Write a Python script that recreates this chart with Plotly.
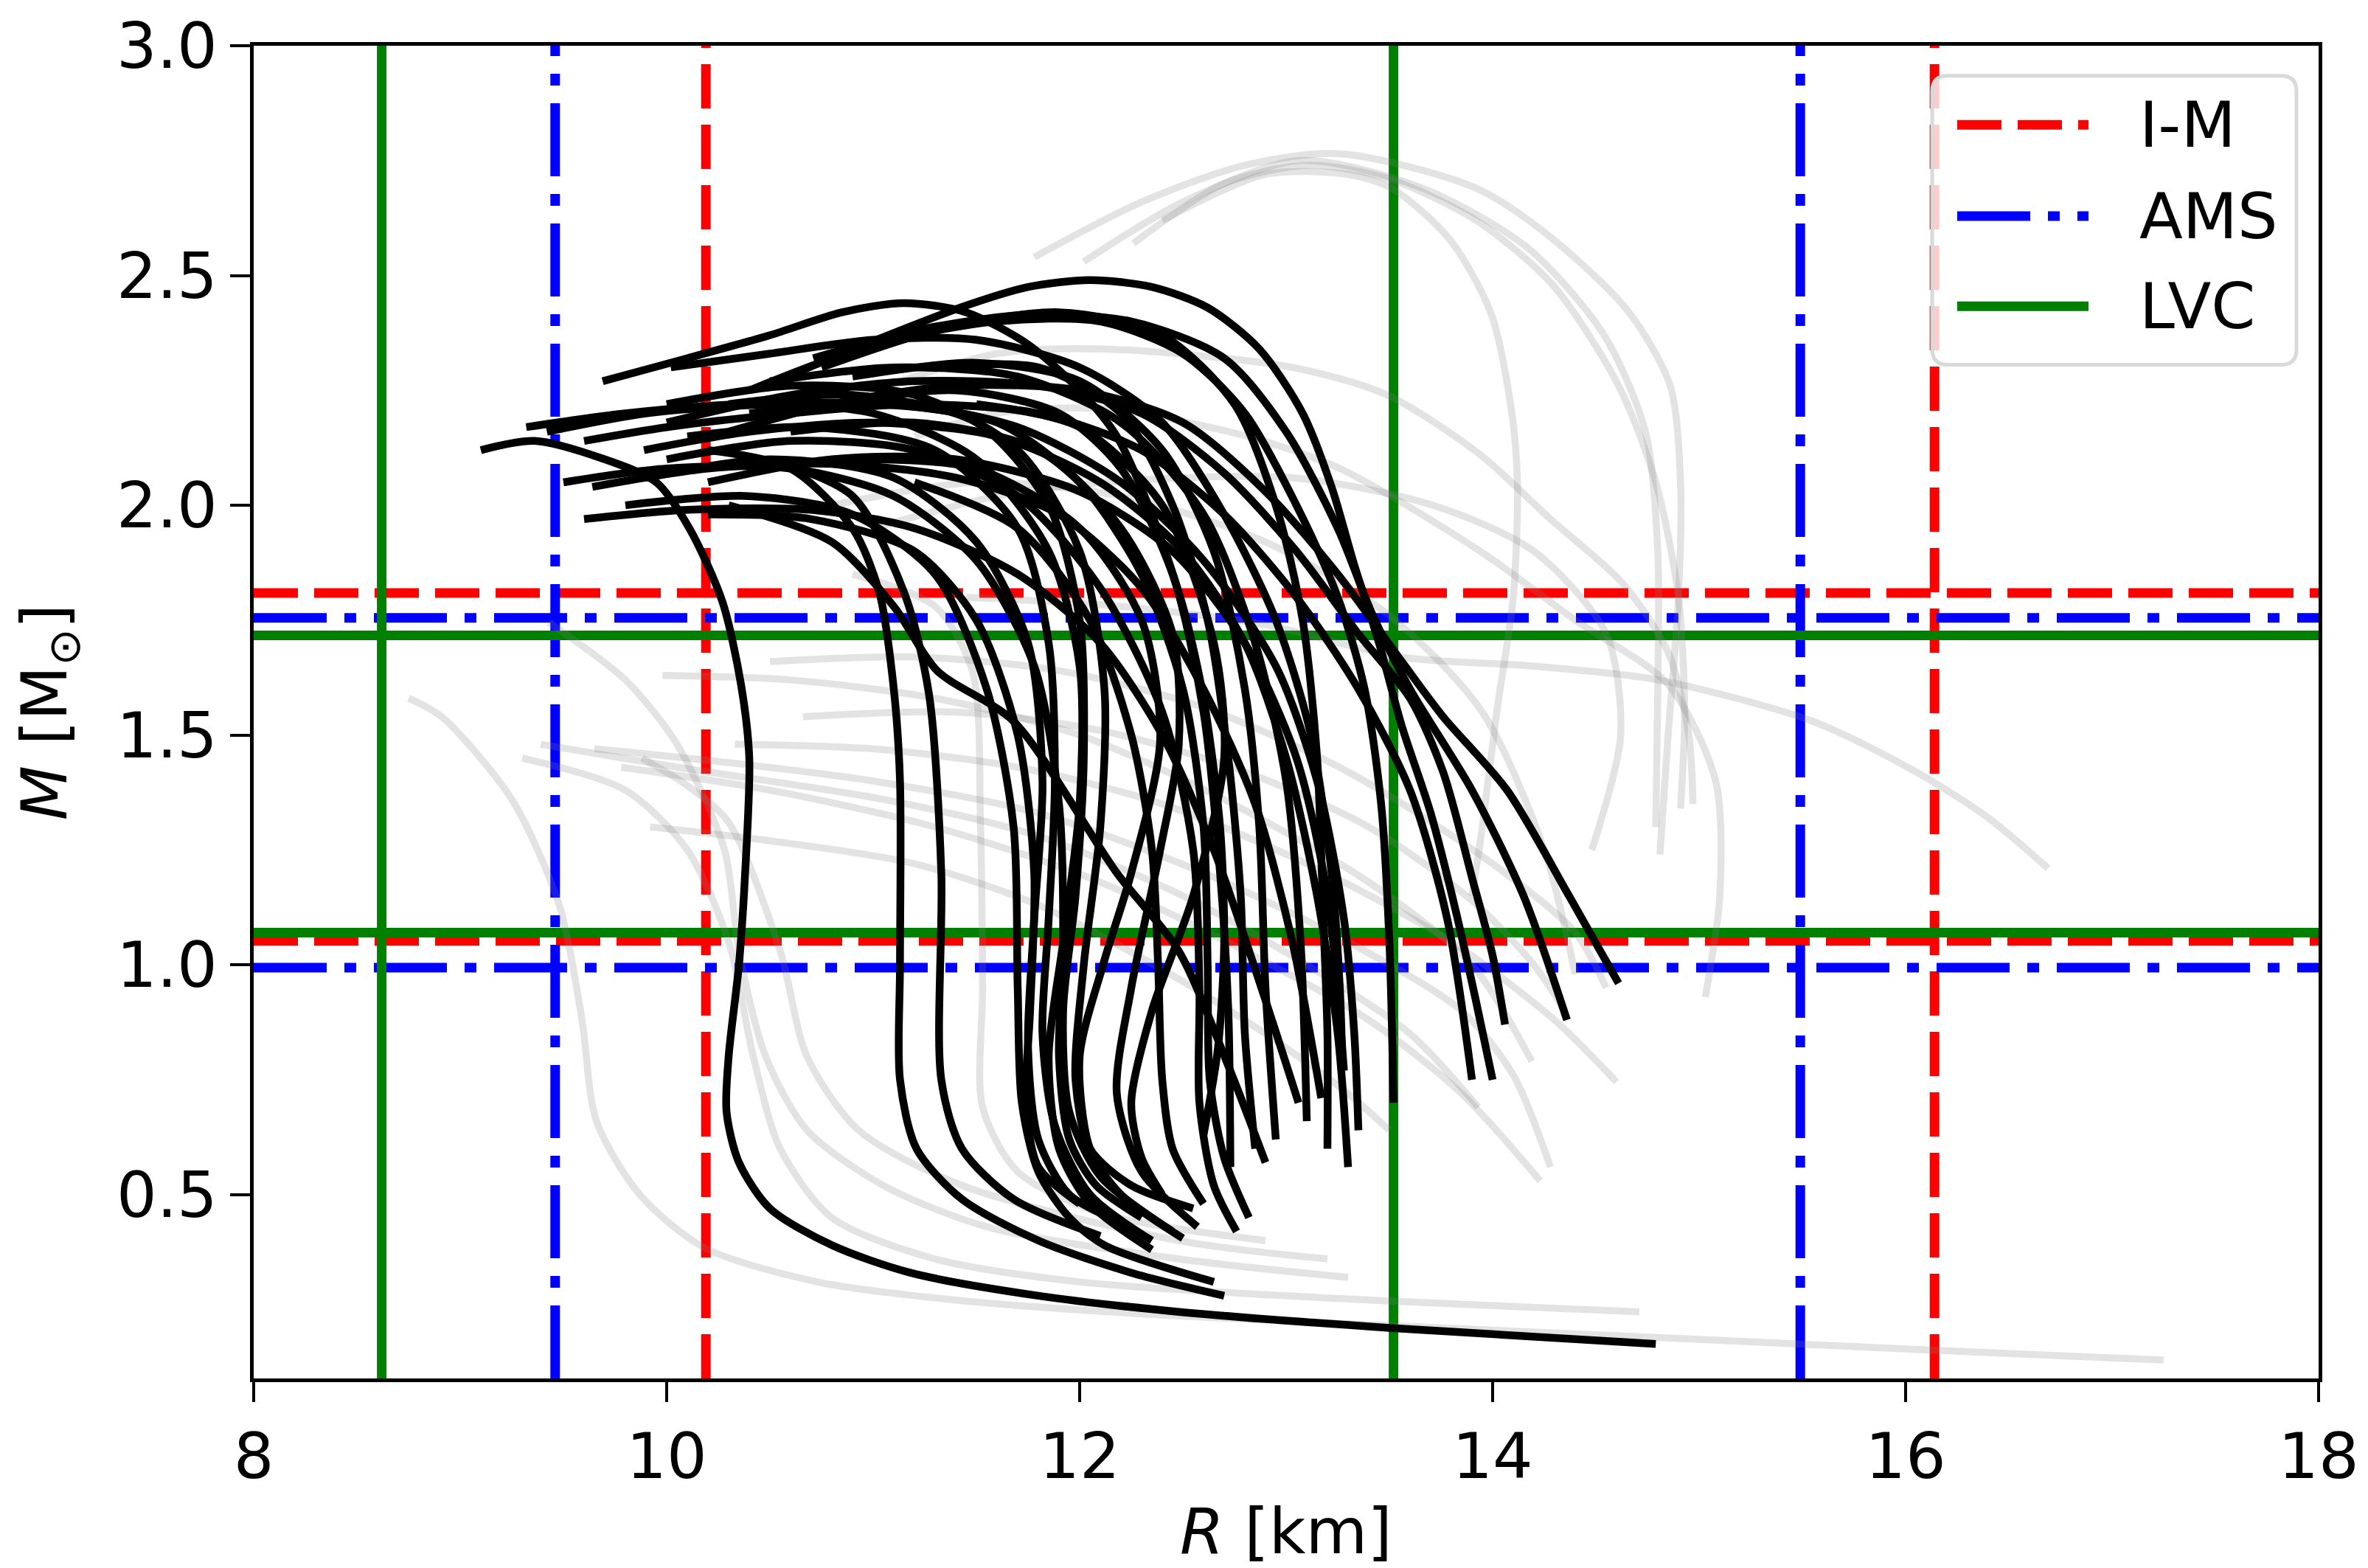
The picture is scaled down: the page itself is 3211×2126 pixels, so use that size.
import plotly.graph_objects as go

# ---------------- constraint values ----------------
IM_R = [10.19, 16.14]
IM_M = [1.052, 1.809]
AMS_R = [9.46, 15.49]
AMS_M = [0.994, 1.755]
LVC_R = [8.62, 13.52]
LVC_M = [1.070, 1.717]

X_RANGE = [8, 18]
Y_RANGE = [0.1, 3.0]
X_TICKS = [8, 10, 12, 14, 16, 18]
Y_TICKS = [0.5, 1.0, 1.5, 2.0, 2.5, 3.0]

# ---------------- grey (excluded) M-R curves : (R [km], M [Msun]) ----------------
g01 = [(8.75,1.58),(8.91,1.54),(9.25,1.36),(9.48,1.13),(9.59,0.88),(9.66,0.66),(9.87,0.50),(10.18,0.385),(10.73,0.31),(11.41,0.27),(12.32,0.24),(13.5,0.215),(15.0,0.185),(16.2,0.16),(17.25,0.14)]
g02 = [(9.30,1.45),(9.80,1.38),(10.10,1.25),(10.30,1.05),(10.42,0.80),(10.55,0.60),(10.80,0.45),(11.30,0.36),(12.0,0.31),(13.0,0.28),(14.71,0.245)]
g03 = [(9.43,1.745),(9.8,1.62),(10.05,1.48),(10.28,1.25),(10.35,1.03),(10.48,0.80),(10.68,0.64),(11.05,0.52),(11.55,0.43),(12.48,0.36),(13.3,0.32)]
g04 = [(9.88,1.45),(10.1,1.39),(10.3,1.31),(10.55,1.03),(10.68,0.80),(10.93,0.64),(11.43,0.52),(12.48,0.40),(13.2,0.36)]
g05 = [(10.9,1.85),(11.3,1.78),(11.48,1.64),(11.52,1.30),(11.53,0.95),(11.53,0.69),(11.7,0.55),(12.1,0.46),(12.9,0.40)]
g06 = [(9.39,1.48),(10.05,1.43),(11.05,1.36),(11.8,1.28),(12.5,1.15),(13.1,1.0),(13.6,0.85),(13.93,0.69)]
g07 = [(9.65,1.47),(10.3,1.44),(11.0,1.40),(11.8,1.33),(12.6,1.20),(13.3,1.05),(13.85,0.90),(14.1,0.76),(14.28,0.56)]
g08 = [(9.78,1.43),(10.5,1.38),(11.3,1.30),(12.1,1.18),(12.8,1.03),(13.4,0.88),(13.85,0.72),(14.23,0.53)]
g09 = [(9.98,1.63),(10.6,1.62),(11.3,1.58),(12.0,1.50),(12.7,1.36),(13.4,1.18),(13.9,1.0),(14.19,0.79)]
g10 = [(9.92,1.30),(10.5,1.27),(11.2,1.22),(11.8,1.13),(12.4,0.99),(12.9,0.85),(13.3,0.72),(13.5,0.64)]
g11 = [(10.33,1.48),(11.0,1.47),(11.7,1.43),(12.4,1.35),(13.1,1.22),(13.8,1.05),(14.3,0.88),(14.6,0.745)]
g12 = [(10.5,1.66),(11.2,1.67),(11.9,1.64),(12.6,1.56),(13.3,1.42),(14.0,1.22),(14.4,1.07),(14.55,0.95)]
g13 = [(10.66,1.54),(11.4,1.55),(12.1,1.51),(12.8,1.42),(13.4,1.30),(13.9,1.14),(14.2,1.0),(14.35,0.90)]
g14 = [(11.45,1.80),(12.2,1.78),(12.9,1.74),(13.55,1.67),(14.2,1.65),(14.8,1.62),(15.55,1.53),(16.05,1.42),(16.4,1.32),(16.69,1.21)]
g15 = [(11.78,2.54),(12.3,2.66),(12.8,2.74),(13.26,2.765),(13.92,2.69),(14.29,2.58),(14.66,2.42),(14.86,2.26),(14.91,2.05),(14.9,1.8),(14.85,1.5),(14.81,1.24)]
g16 = [(12.02,2.53),(12.5,2.66),(13.06,2.75),(13.66,2.69),(14.17,2.56),(14.54,2.37),(14.74,2.16),(14.8,1.9),(14.8,1.6),(14.79,1.30)]
g17 = [(12.26,2.57),(12.7,2.70),(13.11,2.74),(13.5,2.71),(13.92,2.62),(14.29,2.48),(14.61,2.26),(14.79,2.05),(14.9,1.8),(14.93,1.55),(14.91,1.34)]
g18 = [(12.4,2.62),(12.9,2.72),(13.3,2.72),(13.51,2.69),(13.79,2.58),(13.99,2.42),(14.09,2.21),(14.12,2.05),(14.1,1.8),(14.02,1.55),(13.95,1.30),(13.9,1.15)]
g19 = [(11.0,2.25),(11.6,2.33),(12.12,2.34),(13.03,2.30),(13.49,2.24),(13.94,2.11),(14.28,1.97),(14.63,1.83),(14.85,1.68),(14.95,1.50),(14.97,1.35)]
g20 = [(11.2,2.15),(11.6,2.20),(12.12,2.21),(12.81,2.15),(13.26,2.08),(13.94,1.90),(14.4,1.75),(14.85,1.61),(15.08,1.40),(15.1,1.15),(15.03,0.93)]
g21 = [(11.0,1.95),(11.6,2.02),(12.12,2.05),(13.03,2.06),(13.71,2.0),(14.2,1.90),(14.55,1.72),(14.62,1.50),(14.48,1.25)]
g22 = [(10.8,2.0),(11.5,2.05),(12.2,2.02),(12.9,1.92),(13.5,1.76),(13.95,1.55),(14.25,1.25),(14.4,0.98)]

# ---------------- black (allowed) M-R curves : (R [km], M [Msun]) ----------------
b01 = [(9.10,2.12),(9.36,2.14),(9.70,2.10),(9.95,2.05),(10.11,1.95),(10.27,1.79),(10.36,1.61),(10.40,1.45),(10.38,1.20),(10.35,1.00),(10.30,0.80),(10.29,0.68),(10.35,0.57),(10.50,0.47),(10.80,0.39),(11.18,0.33),(11.80,0.28),(12.48,0.245),(13.50,0.21),(14.79,0.175)]
b02 = [(10.58,2.28),(10.96,2.35),(11.42,2.43),(11.75,2.475),(12.05,2.49),(12.35,2.475),(12.62,2.43),(12.87,2.34),(13.08,2.20),(13.22,2.04),(13.33,1.87),(13.45,1.70),(13.56,1.52),(13.70,1.33),(13.82,1.12),(13.92,0.92),(14.0,0.75)]
b03 = [(9.69,2.27),(10.1,2.32),(10.5,2.37),(10.85,2.42),(11.15,2.44),(11.45,2.42),(11.75,2.35),(12.0,2.25),(12.18,2.15),(12.35,1.98),(12.5,1.78),(12.6,1.58),(12.68,1.30),(12.70,1.05),(12.67,0.82),(12.6,0.63)]
b04 = [(10.71,2.32),(11.2,2.38),(11.75,2.415),(12.25,2.40),(12.7,2.32),(13.0,2.16),(13.25,1.95),(13.42,1.76),(13.6,1.60),(13.9,1.38),(14.15,1.15),(14.36,0.88)]
b05 = [(10.3,2.16),(10.8,2.22),(11.4,2.26),(12.0,2.25),(12.5,2.18),(12.9,2.03),(13.25,1.85),(13.56,1.66),(13.76,1.54),(14.07,1.38),(14.37,1.15),(14.61,0.96)]
b06 = [(10.0,2.18),(10.6,2.24),(11.2,2.27),(11.8,2.26),(12.3,2.20),(12.7,2.07),(13.05,1.90),(13.35,1.72),(13.6,1.58),(13.76,1.42),(13.9,1.19),(14.0,1.02),(14.06,0.87)]
b07 = [(10.4,2.25),(11.0,2.35),(11.6,2.40),(12.1,2.40),(12.5,2.33),(12.8,2.20),(13.05,2.0),(13.25,1.80),(13.38,1.60),(13.46,1.35),(13.5,1.05),(13.52,0.70)]
b08 = [(9.60,2.14),(10.0,2.17),(10.6,2.20),(11.2,2.22),(11.8,2.20),(12.3,2.12),(12.7,1.98),(13.05,1.80),(13.35,1.60),(13.6,1.38),(13.78,1.10),(13.9,0.75)]
b09 = [(9.42,2.16),(9.9,2.20),(10.5,2.22),(11.1,2.22),(11.7,2.17),(12.2,2.05),(12.6,1.88),(12.95,1.65),(13.15,1.40),(13.28,1.10),(13.33,0.85),(13.35,0.64)]
b10 = [(9.89,2.12),(10.4,2.16),(11.0,2.18),(11.6,2.15),(12.1,2.05),(12.5,1.90),(12.8,1.70),(13.0,1.45),(13.15,1.15),(13.25,0.85),(13.30,0.56)]
b11 = [(10.2,2.05),(10.8,2.10),(11.4,2.10),(12.0,2.03),(12.45,1.90),(12.8,1.70),(13.05,1.45),(13.2,1.15),(13.28,0.77)]
b12 = [(9.64,2.04),(10.2,2.08),(10.8,2.09),(11.4,2.06),(11.9,1.98),(12.3,1.82),(12.6,1.60),(12.85,1.35),(13.03,1.05),(13.17,0.71)]
b13 = [(9.60,1.97),(10.1,1.99),(10.7,1.99),(11.2,1.95),(11.7,1.85),(12.1,1.70),(12.4,1.50),(12.65,1.25),(12.88,0.95),(13.06,0.70)]
b14 = [(10.3,2.0),(10.8,1.92),(11.1,1.78),(11.31,1.64),(11.68,1.53),(12.18,1.20),(12.48,1.03),(12.72,0.78),(12.9,0.57)]
b15 = [(10.8,2.22),(11.4,2.25),(11.9,2.20),(12.2,2.08),(12.45,1.85),(12.6,1.55),(12.68,1.20),(12.72,0.90),(12.73,0.56)]
b16 = [(10.4,2.20),(11.0,2.22),(11.6,2.18),(12.0,2.05),(12.3,1.85),(12.5,1.60),(12.6,1.30),(12.62,1.00),(12.63,0.75),(12.70,0.58),(12.82,0.45)]
b17 = [(10.0,2.10),(10.6,2.14),(11.2,2.12),(11.7,2.02),(12.1,1.82),(12.4,1.55),(12.55,1.25),(12.58,0.95),(12.58,0.70),(12.65,0.52),(12.76,0.42)]
b18 = [(10.6,2.16),(11.2,2.18),(11.8,2.12),(12.2,1.95),(12.45,1.72),(12.48,1.48),(12.39,1.25),(12.25,0.95),(12.18,0.72),(12.30,0.55),(12.57,0.43)]
b19 = [(10.9,2.10),(11.5,2.08),(12.0,1.95),(12.3,1.75),(12.39,1.49),(12.25,1.20),(12.12,1.01),(12.0,0.80),(12.05,0.60),(12.2,0.50),(12.5,0.405)]
b20 = [(9.32,2.17),(9.8,2.20),(10.4,2.22),(11.0,2.20),(11.5,2.10),(11.85,1.90),(12.0,1.65),(12.0,1.35),(11.92,1.05),(11.85,0.80),(11.9,0.60),(12.05,0.48),(12.35,0.38)]
b21 = [(10.2,2.12),(10.6,2.08),(10.9,1.95),(11.03,1.81),(11.10,1.60),(11.13,1.40),(11.13,1.00),(11.13,0.75),(11.21,0.60),(11.43,0.49),(11.80,0.40),(12.25,0.33),(12.70,0.28)]
b22 = [(10.5,2.10),(10.9,2.02),(11.15,1.81),(11.27,1.59),(11.33,1.20),(11.33,0.75),(11.43,0.60),(11.68,0.49),(12.10,0.41)]
b23 = [(9.8,2.00),(10.4,2.02),(10.9,1.98),(11.3,1.85),(11.55,1.60),(11.68,1.30),(11.70,0.95),(11.72,0.70),(11.80,0.55),(11.95,0.45),(12.12,0.39),(12.65,0.31)]
b24 = [(10.1,2.15),(10.7,2.17),(11.3,2.12),(11.7,1.95),(11.85,1.70),(11.88,1.40),(11.85,1.10),(11.82,0.85),(11.88,0.65),(12.05,0.50),(12.35,0.40)]
b25 = [(10.3,2.22),(10.9,2.24),(11.5,2.18),(11.85,2.0),(12.0,1.75),(12.02,1.45),(11.98,1.15),(11.92,0.90),(11.95,0.68),(12.1,0.54),(12.45,0.42)]
b26 = [(10.0,2.22),(10.6,2.26),(11.2,2.24),(11.7,2.12),(12.0,1.90),(12.12,1.60),(12.10,1.30),(12.02,1.00),(11.98,0.75),(12.05,0.60),(12.25,0.52),(12.55,0.47)]
b27 = [(9.9,2.06),(10.5,2.10),(11.1,2.06),(11.5,1.92),(11.75,1.70),(11.82,1.40),(11.78,1.10),(11.75,0.82),(11.80,0.62),(11.95,0.50),(12.20,0.44)]
b28 = [(11.3,2.30),(11.8,2.30),(12.2,2.20),(12.45,2.0),(12.62,1.75),(12.72,1.45),(12.78,1.15),(12.80,0.85),(12.85,0.60)]
b29 = [(10.9,2.28),(11.5,2.31),(12.0,2.27),(12.4,2.12),(12.65,1.90),(12.8,1.60),(12.87,1.30),(12.9,0.95),(12.95,0.62)]
b30 = [(10.5,2.27),(11.1,2.30),(11.7,2.28),(12.2,2.18),(12.6,1.98),(12.85,1.70),(13.0,1.40),(13.07,1.05),(13.10,0.66)]
b31 = [(11.5,2.22),(12.0,2.17),(12.4,2.0),(12.65,1.70),(12.7,1.45),(12.55,1.15),(12.35,0.90),(12.25,0.70),(12.3,0.58),(12.4,0.50)]
b32 = [(11.2,2.05),(11.7,1.95),(12.05,1.75),(12.25,1.50),(12.35,1.25),(12.38,1.00),(12.40,0.75),(12.45,0.60),(12.6,0.48)]
b33 = [(10.75,2.30),(11.3,2.38),(11.9,2.42),(12.4,2.37),(12.75,2.22),(12.95,2.0),(13.08,1.75),(13.15,1.45),(13.18,1.10),(13.2,0.85),(13.2,0.60)]
b34 = [(9.5,2.05),(10.0,2.08),(10.6,2.08),(11.1,2.02),(11.5,1.88),(11.78,1.65),(11.9,1.35),(11.92,1.05),(11.90,0.80),(11.95,0.62),(12.08,0.52),(12.30,0.45)]
b35 = [(10.2,1.98),(10.7,1.97),(11.2,1.90),(11.5,1.75),(11.7,1.50),(11.78,1.20),(11.76,0.90),(11.74,0.70),(11.80,0.56),(12.0,0.48)]
b36 = [(10.02,2.30),(10.5,2.33),(11.0,2.36),(11.5,2.36),(12.0,2.30),(12.4,2.18),(12.7,1.98),(12.95,1.75),(13.12,1.50),(13.22,1.20),(13.26,0.95),(13.27,0.82)]

grey_curves = [g01, g02, g03, g04, g05, g06, g07, g08, g09, g10, g11,
               g12, g13, g14, g15, g16, g17, g18, g19, g20, g21, g22]
black_curves = [b01, b02, b03, b04, b05, b06, b07, b08, b09, b10, b11, b12,
                b13, b14, b15, b16, b17, b18, b19, b20, b21, b22, b23, b24,
                b25, b26, b27, b28, b29, b30, b31, b32, b33, b34, b35, b36]

# ---------------- styles ----------------
RED = "#ff0000"
BLUE = "#0000ff"
GREEN = "#008000"
DASH_IM = "60px,22px"
DASH_AMS = "99px,24px,16px,24px"
LW = 13
FONT = "DejaVu Sans"
FS = 86

fig = go.Figure()

def add_constraint(r_vals, m_vals, color, dash, name):
    for r in r_vals:
        fig.add_trace(go.Scatter(x=[r, r], y=Y_RANGE, mode="lines", name=name,
                                 line=dict(color=color, width=LW, dash=dash),
                                 showlegend=False, hoverinfo="skip"))
    for m in m_vals:
        fig.add_trace(go.Scatter(x=X_RANGE, y=[m, m], mode="lines", name=name,
                                 line=dict(color=color, width=LW, dash=dash),
                                 showlegend=False, hoverinfo="skip"))

add_constraint(IM_R, IM_M, RED, DASH_IM, "I-M")
add_constraint(AMS_R, AMS_M, BLUE, DASH_AMS, "AMS")
add_constraint(LVC_R, LVC_M, GREEN, "solid", "LVC")

for c in grey_curves:
    fig.add_trace(go.Scatter(x=[p[0] for p in c], y=[p[1] for p in c], mode="lines",
                             line=dict(color="rgba(128,128,128,0.22)", width=9.5,
                                       shape="spline", smoothing=0.8),
                             showlegend=False, hoverinfo="skip"))

for c in black_curves:
    fig.add_trace(go.Scatter(x=[p[0] for p in c], y=[p[1] for p in c], mode="lines",
                             line=dict(color="black", width=10.5,
                                       shape="spline", smoothing=0.8),
                             showlegend=False, hoverinfo="skip"))

# ---------------- manual legend (paper coords) ----------------
x0, x1, y0, y1 = 0.8129, 0.9893, 0.7606, 0.9775
rx, ry = 0.0075, 0.0115
path = (f"M {x0+rx},{y1} L {x1-rx},{y1} Q {x1},{y1} {x1},{y1-ry} "
        f"L {x1},{y0+ry} Q {x1},{y0} {x1-rx},{y0} L {x0+rx},{y0} "
        f"Q {x0},{y0} {x0},{y0+ry} L {x0},{y1-ry} Q {x0},{y1} {x0+rx},{y1} Z")
shapes = [dict(type="path", path=path, xref="paper", yref="paper",
               fillcolor="rgba(255,255,255,0.8)", line=dict(color="#d9d9d9", width=5),
               layer="above")]
legend_items = [("I-M", RED, DASH_IM, 0.9407), ("AMS", BLUE, DASH_AMS, 0.8721),
                ("LVC", GREEN, "solid", 0.8045)]
annotations = []
for label, col, dsh, yy in legend_items:
    shapes.append(dict(type="line", xref="paper", yref="paper", x0=0.8250, x1=0.8886,
                       y0=yy, y1=yy, line=dict(color=col, width=LW, dash=dsh), layer="above"))
    annotations.append(dict(text=label, xref="paper", yref="paper", x=0.9125, y=yy,
                            xanchor="left", yanchor="middle", showarrow=False,
                            font=dict(family=FONT, size=FS, color="black")))

fig.update_layout(
    width=3211, height=2126,
    margin=dict(l=344, r=67, t=54, b=252),
    paper_bgcolor="white", plot_bgcolor="white",
    font=dict(family=FONT, size=FS, color="black"),
    showlegend=False,
    shapes=shapes, annotations=annotations,
    xaxis=dict(range=X_RANGE, tickvals=X_TICKS, ticks="outside", ticklen=27, tickwidth=4,
               tickcolor="black", showline=True, linewidth=5, linecolor="black", mirror=True,
               showgrid=False, zeroline=False,
               title=dict(text="<i>R</i> [km]", font=dict(family=FONT, size=FS), standoff=30),
               tickfont=dict(family=FONT, size=FS)),
    yaxis=dict(range=Y_RANGE, tickvals=Y_TICKS, tickformat=".1f", ticks="outside", ticklen=27,
               tickwidth=4, tickcolor="black", showline=True, linewidth=5, linecolor="black",
               mirror=True, showgrid=False, zeroline=False,
               title=dict(text="<i>M</i> [M<sub>⊙</sub>]", font=dict(family=FONT, size=FS), standoff=40),
               tickfont=dict(family=FONT, size=FS)),
)

fig.write_html("out.html")
